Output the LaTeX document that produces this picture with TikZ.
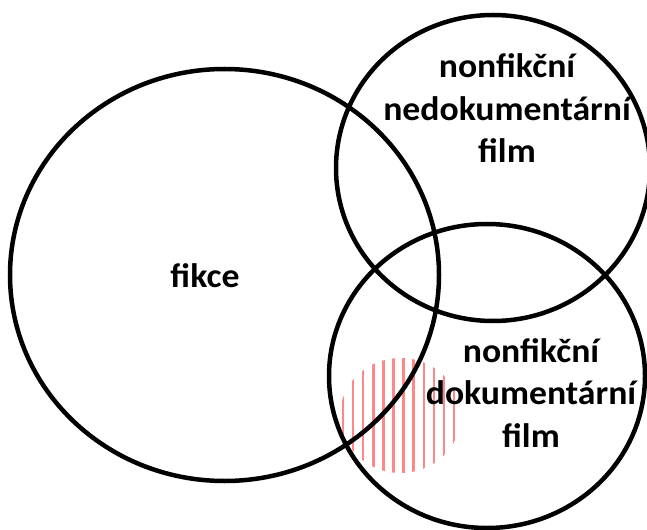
\documentclass[tikz,border=0pt]{standalone}
\usepackage{fontspec}
\setmainfont{Carlito}
\definecolor{stripe}{RGB}{255,135,135}
\begin{document}
\begin{tikzpicture}[x=1bp,y=-1bp,
  ring/.style={draw=black,line width=4.5bp},
  lbl/.style={align=center,font=\bfseries\fontsize{34bp}{42.5bp}\selectfont,inner sep=0pt,xscale=1.05}]
\useasboundingbox (0,0) rectangle (647,530);
% hatched area
\begin{scope}
  \clip (400.5,415.5) ellipse [x radius=60.5, y radius=57.5];
  \foreach \k in {0,...,12}{
    \draw[stripe,line width=2.5bp] (343+10.1*\k,350) -- (343+10.1*\k,480);
  }
\end{scope}
% circles
\draw[ring] (224.5,275) ellipse [x radius=214.5, y radius=206];
\draw[ring] (493,168) ellipse [x radius=157, y radius=153];
\draw[ring] (487,376) ellipse [x radius=158, y radius=152];
% labels (base anchor = baseline of the last line)
\node[lbl,anchor=base] (fikce) at (205,287) {fikce};
\node[lbl,anchor=base] (nned) at (507,163) {nonfikční\\nedokumentární\\film};
\node[lbl,anchor=base] (ndok) at (531,447) {nonfikční\\dokumentární\\film};
\end{tikzpicture}
\end{document}
